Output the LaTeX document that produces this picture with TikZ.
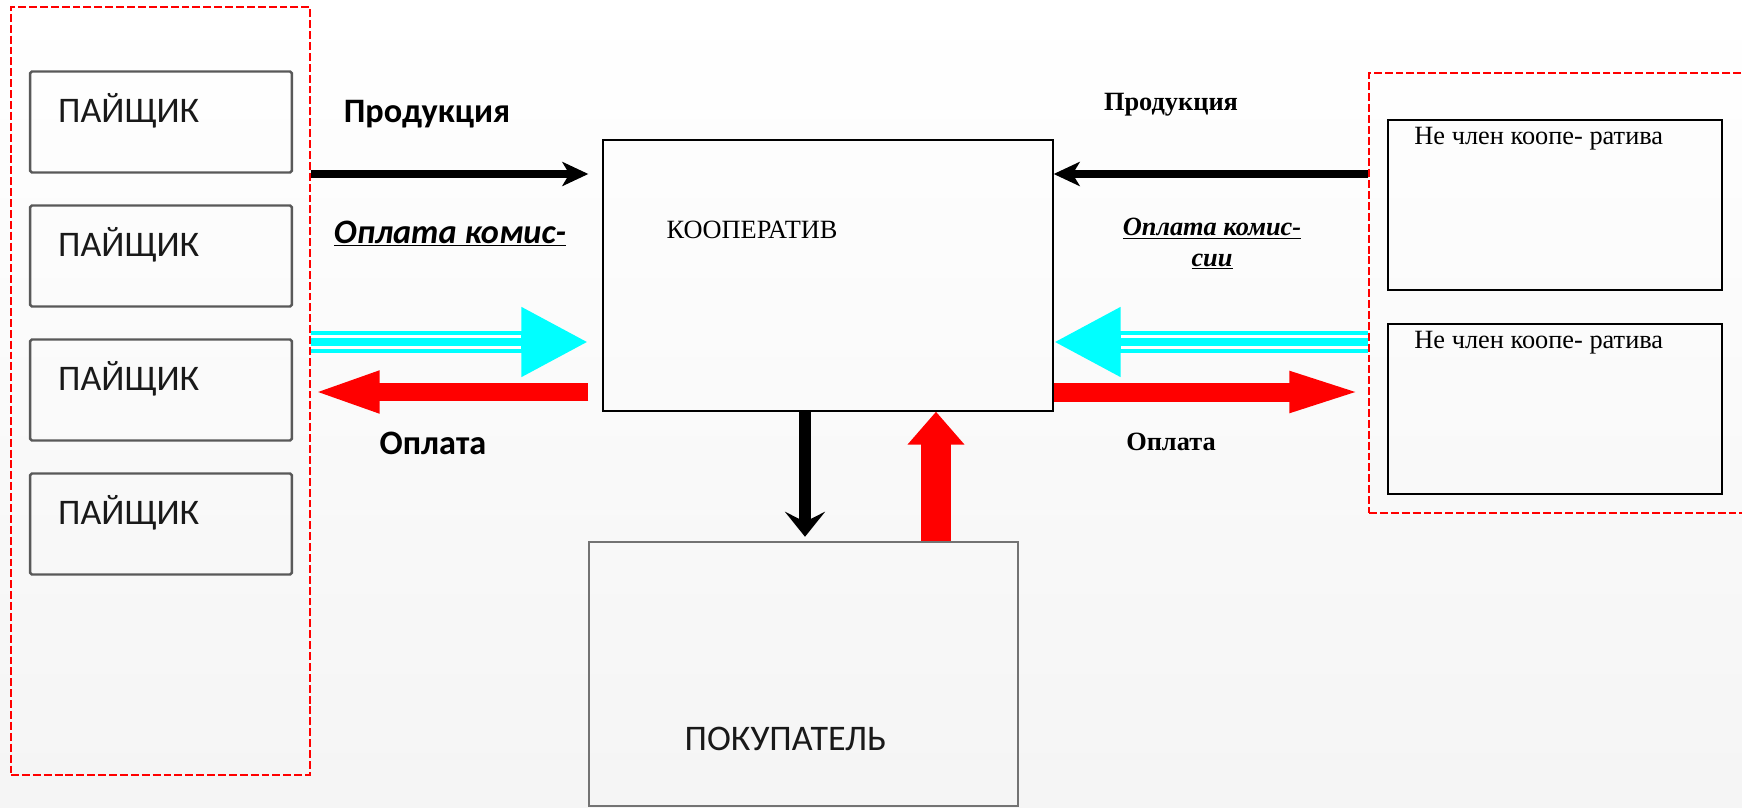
\documentclass[tikz,border=0pt]{standalone}
\usepackage{fontspec}
\setmainfont{Liberation Serif}
\newfontfamily\calib{Carlito}
\usetikzlibrary{arrows.meta, positioning, calc}
\definecolor{aqua}{RGB}{0,255,255}
\definecolor{pure red}{RGB}{255,0,0}
\tikzstyle{group} = [rectangle, draw=pure red, line width=0.8pt, dash pattern=on 4.5pt off 1.7pt, inner sep=0]
\tikzstyle{member} = [rectangle, minimum width=5.24cm, minimum height=2.02cm, draw=black!65, line width=1.4pt, rounded corners=1pt, inner sep=0]
\tikzstyle{outsider} = [rectangle, minimum width=6.68cm, minimum height=3.4cm, draw=black, line width=1.1pt, inner sep=0]
\tikzstyle{coopbox} = [rectangle, minimum width=9cm, minimum height=5.42cm, draw=black, line width=0.8pt, inner sep=0]
\tikzstyle{buyerbox} = [rectangle, minimum width=8.58cm, minimum height=5.28cm, draw=black!55, line width=1.4pt, inner sep=0]
\tikzstyle{sanstext} = [font=\calib\fontsize{20.5}{24}\selectfont, text=black!90, inner sep=0]
\tikzstyle{sanslabel} = [font=\calib\bfseries\fontsize{19.5}{23}\selectfont, inner sep=0]
\tikzstyle{sertext} = [font=\fontsize{15}{18}\selectfont, inner sep=0]
\tikzstyle{serlabel} = [font=\bfseries\fontsize{15}{17.5}\selectfont, align=center, inner sep=0]
\tikzstyle{prodarrow} = [line width=0.15cm, -{Stealth[length=0.52cm, width=0.48cm, inset=0.14cm]}]
\tikzstyle{goodsarrow} = [line width=0.24cm, -{Stealth[length=0.5cm, width=0.8cm, inset=0.2cm]}]
\tikzstyle{commarrow} = [aqua, line width=0.44cm, -{Triangle[length=1.34cm, width=1.3cm]}, postaction={draw=white, -, line width=0.06cm, double=aqua, double distance=0.16cm, shorten >=1.34cm}]
\tikzstyle{payarrow} = [pure red, line width=0.37cm, -{Triangle[length=1.38cm, width=0.74cm]}]
\tikzstyle{payarrowlong} = [pure red, line width=0.38cm, -{Triangle[length=1.58cm, width=0.7cm]}]
\tikzstyle{payup} = [pure red, line width=0.6cm, -{Triangle[length=0.66cm, width=1.1cm]}]
\begin{document}
\begin{tikzpicture}[x=0.02cm, y=-0.02cm]
\shade[top color=white, bottom color=black!4] (0,0) rectangle (1742,808);
\useasboundingbox (0,0) rectangle (1742,808);

% rows and columns of the flows
\coordinate (prodrow) at (0,174);
\coordinate (commrow) at (0,342);
\coordinate (payrow) at (0,392);
\coordinate (downcol) at (805,0);
\coordinate (upcol) at (936,0);

% members
\node (members) [group, minimum width=5.98cm, minimum height=15.36cm] at (160.5,391) {};
\foreach \i in {1,...,4} {
  \node (p\i) [member] at (161,{122+134*(\i-1)}) {};
  \node [sanstext, anchor=base west] at ($(p\i.north west)+(29,52)$) {ПАЙЩИК};
}

% cooperative and buyer
\node (coop) [coopbox] at (828,275.5) {};
\node [sertext, anchor=base west] at ($(coop.north west)+(64,99)$) {КООПЕРАТИВ};
\coordinate (cooplft) at ($(coop.west)+(-14,0)$);
\node (buyer) [buyerbox] at (803.5,674) {};
\node [sanstext, anchor=base] at ($(buyer.south)+(-18,-57)$) {ПОКУПАТЕЛЬ};

% non-members
\node (others) [group, minimum width=7.82cm, minimum height=8.8cm] at (1564.5,293) {};
\node (n1) [outsider] at (1555,205) {};
\node (n2) [outsider] at (1555,409) {};
\foreach \n in {n1,n2}
  \node [sertext, anchor=base west] at ($(\n.north west)+(27,25)$) {Не член коопе- ратива};

% labels
\node (lprod) [sanslabel, anchor=base] at (427,122) {Продукция};
\node (lcomm) [sanslabel, anchor=base] at (450,243) {\underline{\itshape Оплата комис-}};
\node (lpay) [sanslabel, anchor=base] at (433,454) {Оплата};
\node (rprod) [serlabel, anchor=base] at (1171,110) {Продукция};
\node (rcomm) [serlabel, anchor=base] at (1212,266) {\underline{\itshape Оплата комис-}\\\underline{\itshape сии}};
\node (rpay) [serlabel, anchor=base] at (1171,450) {Оплата};

% flows
\draw [prodarrow] (members.east |- prodrow) -- (cooplft |- prodrow);
\draw [commarrow] (members.east |- commrow) -- (cooplft |- commrow);
\draw [payarrow] (cooplft |- payrow) -- (members.east |- payrow);
\draw [prodarrow] (others.west |- prodrow) -- (coop.east |- prodrow);
\draw [commarrow] (others.west |- commrow) -- (coop.east |- commrow);
\draw [payarrowlong] (coop.east |- payrow) -- (others.west |- payrow);
\draw [goodsarrow] (coop.south -| downcol) -- ($(buyer.north -| downcol)+(0,-4)$);
\draw [payup] (buyer.north -| upcol) -- (coop.south -| upcol);

\end{tikzpicture}
\end{document}
